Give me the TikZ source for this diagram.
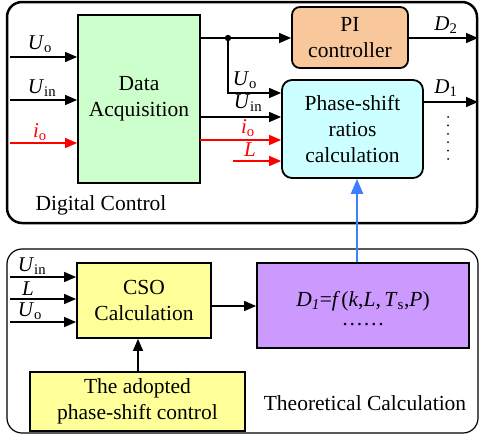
\documentclass[tikz,border=0pt]{standalone}
\usepackage{fontspec}
\setmainfont{Liberation Serif}
\usetikzlibrary{arrows.meta}
\definecolor{dagreen}{HTML}{CCFFCC}
\definecolor{piorange}{HTML}{F8C89C}
\definecolor{pscyan}{HTML}{CCFFFF}
\definecolor{csoyellow}{HTML}{FFFF99}
\definecolor{fpurple}{HTML}{CC99FF}
\definecolor{arrblue}{HTML}{3F7FFF}
\definecolor{sigred}{HTML}{FF0000}
\newcommand{\vU}{\textit{U}}
\tikzset{
  boxtxt/.style={font=\fontsize{21.5}{26}\selectfont, align=center, inner sep=0pt},
  blk/.style={draw, line width=1.8pt, boxtxt},
  lbl/.style={font=\fontsize{21}{24}\selectfont, inner sep=0pt},
  arr/.style={line width=1.4pt, -{Triangle[length=12pt,width=10pt]}},
  ln/.style={line width=1.4pt},
  redarr/.style={arr, sigred},
}
\begin{document}
\begin{tikzpicture}[x=1pt,y=-1pt]
\useasboundingbox (0,0) rectangle (479,440);
% outer frames
\draw[line width=2.5pt, rounded corners=15pt] (7,2) rectangle (477,223);
\draw[line width=1.2pt, rounded corners=15pt] (7,249) rectangle (478,433);
% blocks
\node[blk, fill=dagreen, minimum width=122pt, minimum height=168pt] (da) at (139,99) {Data\\Acquisition};
\node[blk, fill=piorange, rounded corners=8pt, minimum width=116pt, minimum height=61pt] (pi) at (350,37.5) {PI\\controller};
\node[blk, fill=pscyan, rounded corners=10pt, minimum width=141pt, minimum height=98pt] (ps) at (352.5,129) {Phase-shift\\ratios\\calculation};
\node[blk, fill=csoyellow, minimum width=134pt, minimum height=75pt] (cso) at (144,300.5) {CSO\\Calculation};
\node[blk, fill=fpurple, minimum width=212pt, minimum height=85pt] (fx) at (363,305.5) {};
\node[boxtxt] (fxeq) at (363,301) {\textit{D}\textsubscript{\textit{1}}=\textit{f\,}(\textit{k},\textit{L},\,\textit{T}\textsubscript{s},\textit{P})};
\node[boxtxt] (fxdots) at (363,325) {……};
\node[blk, fill=csoyellow, minimum width=215pt, minimum height=59pt] (ad) at (137.5,401.5) {The adopted\\phase-shift control};
% frame titles
\node[boxtxt] (dctitle) at (101,205) {Digital Control};
\node[boxtxt] (tctitle) at (365,403) {Theoretical Calculation};
% inputs to data acquisition
\coordinate (i1) at (10,57);
\coordinate (i2) at (10,100);
\coordinate (i3) at (10,143);
\draw[arr] (i1) -- (i1 -| da.west);
\draw[arr] (i2) -- (i2 -| da.west);
\draw[redarr] (i3) -- (i3 -| da.west);
\node[lbl] (l1) at (40,44) {\vU\textsubscript{o}};
\node[lbl] (l2) at (42,88) {\vU\textsubscript{in}};
\node[lbl, text=sigred] (l3) at (40,132) {\textit{i}\textsubscript{o}};
% data acquisition outputs
\coordinate (j) at (228,38);
\draw[ln] (da.east |- j) -- (j);
\draw[arr] (j) -- (pi.west |- j);
\fill (j) circle (3.2pt);
\coordinate (k1) at (228,93);
\draw[arr] (j) -- (k1) -- (k1 -| ps.west);
\node[lbl] (l4) at (245,80) {\vU\textsubscript{o}};
\coordinate (k2) at (200,117);
\draw[arr] (k2) -- (k2 -| ps.west);
\node[lbl] (l5) at (248,103) {\vU\textsubscript{in}};
\coordinate (k3) at (200,140);
\draw[redarr] (k3) -- (k3 -| ps.west);
\node[lbl, text=sigred] (l6) at (248,128) {\textit{i}\textsubscript{o}};
\coordinate (k4) at (233,161);
\draw[redarr] (k4) -- (k4 -| ps.west);
\node[lbl, text=sigred] (l7) at (250,150) {\textit{L}};
% outputs
\coordinate (o2) at (478,38);
\draw[arr] (pi.east |- o2) -- (o2);
\node[lbl] (l8) at (446,25) {\textit{D}\textsubscript{2}};
\coordinate (o1) at (478,102);
\draw[arr] (ps.east |- o1) -- (o1);
\node[lbl] (l9) at (446,88) {\textit{D}\textsubscript{1}};
\coordinate (dt1) at (448,117);
\coordinate (dt2) at (448,159);
\draw[line width=2pt, dash pattern=on 0pt off 8.4pt, line cap=round] (dt1) -- (dt2);
% blue arrow
\draw[line width=2.4pt, arrblue, -{Triangle[length=15pt,width=12pt]}] (fx.north -| 357,0) -- (ps.south -| 357,0);
% bottom inputs
\coordinate (b1) at (10,277);
\coordinate (b2) at (10,299);
\coordinate (b3) at (10,322);
\draw[arr] (b1) -- (b1 -| cso.west);
\draw[arr] (b2) -- (b2 -| cso.west);
\draw[arr] (b3) -- (b3 -| cso.west);
\node[lbl] (l10) at (32,266) {\vU\textsubscript{in}};
\node[lbl] (l11) at (28,289) {\textit{L}};
\node[lbl] (l12) at (30,311) {\vU\textsubscript{o}};
% CSO to f
\coordinate (c1) at (211,306);
\draw[arr] (c1) -- (c1 -| fx.west);
% adopted to CSO
\draw[arr] (ad.north -| 138,0) -- (cso.south -| 138,0);
\end{tikzpicture}
\end{document}
